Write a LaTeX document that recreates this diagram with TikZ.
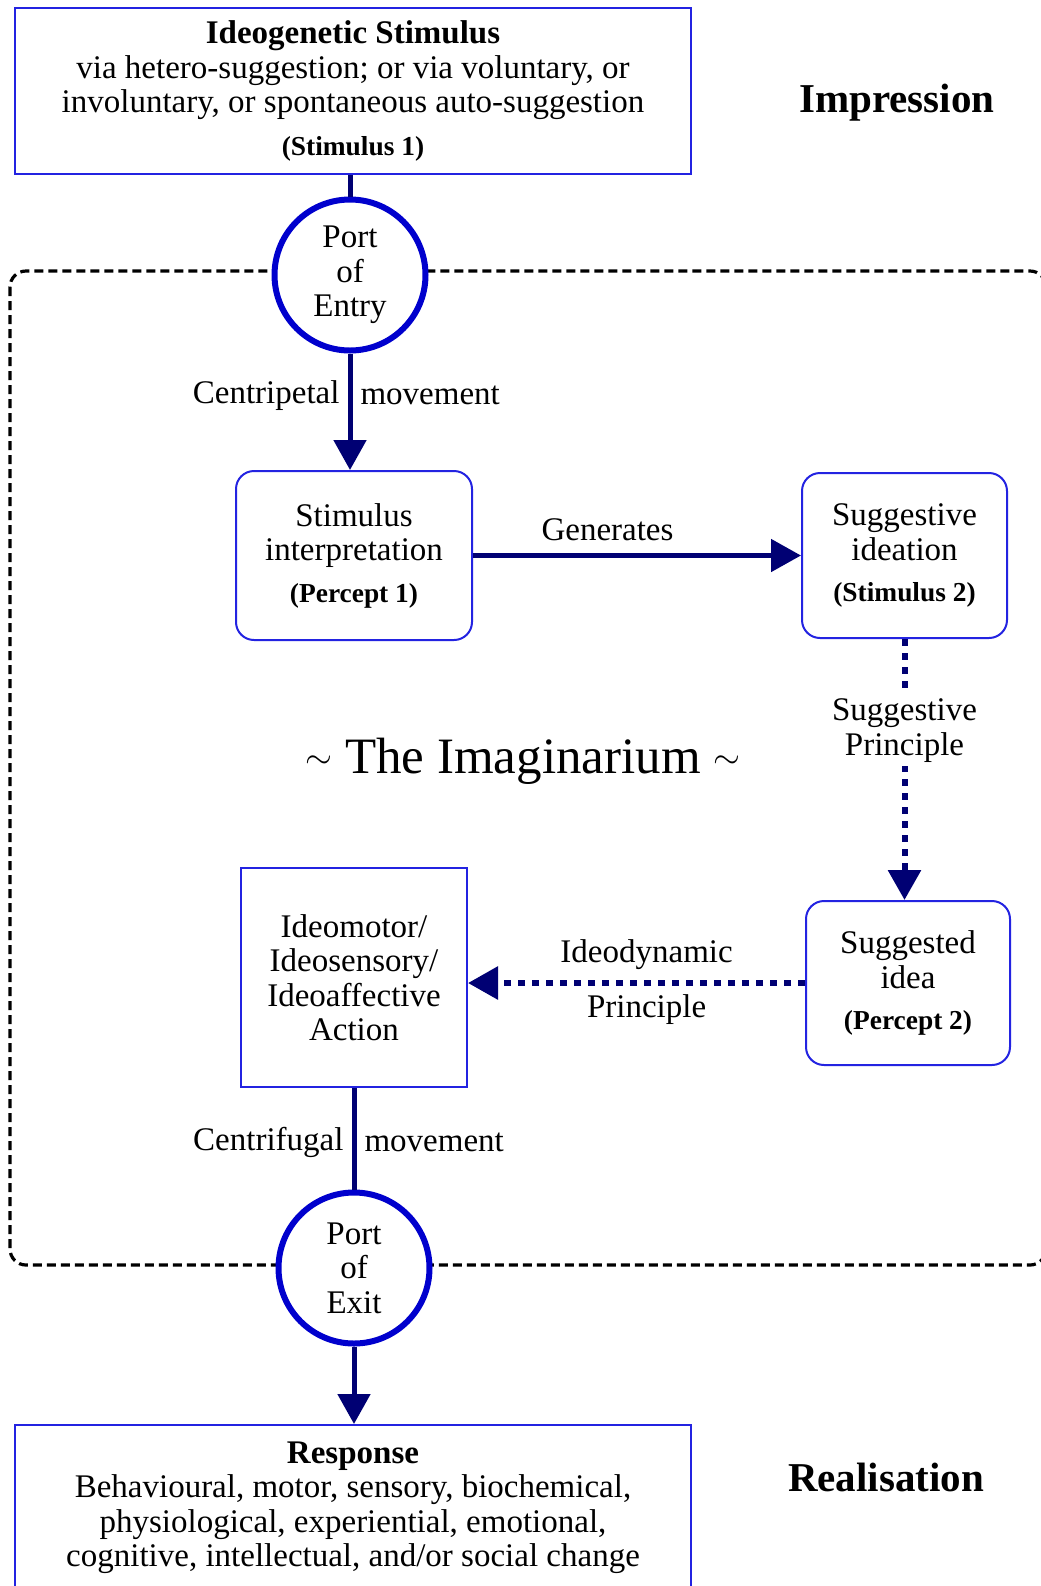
\documentclass[tikz,border=0pt]{standalone}
\usepackage{fontspec}
\setmainfont{Liberation Serif}
\usetikzlibrary{arrows.meta}
\definecolor{boxblue}{RGB}{35,35,225}
\definecolor{circblue}{RGB}{0,0,205}
\definecolor{arrnavy}{RGB}{0,0,115}
\tikzset{
  txt/.style={font=\fontsize{16.5}{17.25}\selectfont, align=center},
  sqbox/.style={txt, draw=boxblue, line width=1pt, inner sep=0pt},
  rbox/.style={sqbox, rounded corners=9pt},
  port/.style={txt, circle, draw=circblue, fill=white, line width=3pt, minimum size=75.5pt, inner sep=0pt},
  conn/.style={draw=arrnavy, line width=2.5pt},
  head/.style={-{Triangle[width=16pt,length=15pt]}},
  dotconn/.style={conn, line width=3pt, dash pattern=on 3.5pt off 3.5pt},
  border/.style={draw=black, line width=1.6pt, dash pattern=on 4.5pt off 2.5pt, rounded corners=8pt},
  side/.style={font=\fontsize{20.5}{22}\selectfont\bfseries},
  lbl/.style={txt, inner sep=4pt},
}
\newcommand{\smallbf}[1]{{\fontsize{13.7}{14}\selectfont\bfseries #1}}
\newcommand{\midtilde}{\raisebox{2.5pt}{\fontsize{18}{18}\selectfont$\sim$}}
\begin{document}
\begin{tikzpicture}[x=0.5pt,y=-0.5pt]
\useasboundingbox (0,0) rectangle (1040,1586);
\draw[border] (10,271) rectangle (1046,1265);

\node[sqbox, minimum width=338pt, minimum height=83pt] (stim1) at (353,91)
  {\textbf{Ideogenetic Stimulus}\\via hetero-suggestion; or via voluntary, or\\involuntary, or spontaneous auto-suggestion\\[4pt]\smallbf{(Stimulus 1)}};
\node[side] (impr) at (897,103) {Impression};

\node[port] (entry) at (350,275) {Port\\of\\Entry};

\node[rbox, minimum width=118pt, minimum height=84.5pt] (interp) at (354,555.5)
  {Stimulus\\interpretation\\[3.5pt]\smallbf{(Percept 1)}};
\node[rbox, minimum width=102.5pt, minimum height=82.5pt] (ideation) at (904.5,555.5)
  {Suggestive\\ideation\\[3.5pt]\smallbf{(Stimulus 2)}};

\node[txt, font=\fontsize{25.5}{27}\selectfont] (imag) at (523,761) {\midtilde{} The Imaginarium \midtilde};

\node[rbox, minimum width=102pt, minimum height=82pt] (idea) at (908,983)
  {Suggested\\idea\\[3.5pt]\smallbf{(Percept 2)}};
\node[sqbox, minimum width=113pt, minimum height=109.5pt] (action) at (354,977.5)
  {Ideomotor/\\Ideosensory/\\Ideoaffective\\Action};

\node[port] (exit) at (354,1268) {Port\\of\\Exit};

\node[sqbox, minimum width=338pt, minimum height=82.5pt] (response) at (353,1507.5)
  {\textbf{Response}\\Behavioural, motor, sensory, biochemical,\\physiological, experiential, emotional,\\cognitive, intellectual, and/or social change};
\node[side] (real) at (886,1477) {Realisation};

% connectors
\draw[conn] (stim1.south -| entry) -- (entry.north);
\draw[conn, head] (entry.south) --
  node[lbl, pos=0.36, left] {Centripetal}
  node[lbl, pos=0.36, right] {movement}
  (entry.south |- interp.north);
\draw[conn, head] (interp.east) -- node[lbl, pos=0.41, above=3pt, inner sep=3.3pt] {Generates} (ideation.west);
\draw[dotconn, head] (ideation.south) --
  node[lbl, pos=0.35, fill=white, inner sep=2pt] {Suggestive\\Principle}
  (ideation.south |- idea.north);
\draw[dotconn, head] (idea.west) --
  node[lbl, pos=0.47, above=2pt, inner sep=3.3pt] {Ideodynamic}
  node[lbl, pos=0.47, below=1pt, inner sep=3.3pt] {Principle}
  (idea.west -| action.east);
\draw[conn] (action.south) --
  node[lbl, pos=0.54, left] {Centrifugal}
  node[lbl, pos=0.54, right] {movement}
  (exit.north);
\draw[conn, head] (exit.south) -- (exit.south |- response.north);
\end{tikzpicture}
\end{document}
